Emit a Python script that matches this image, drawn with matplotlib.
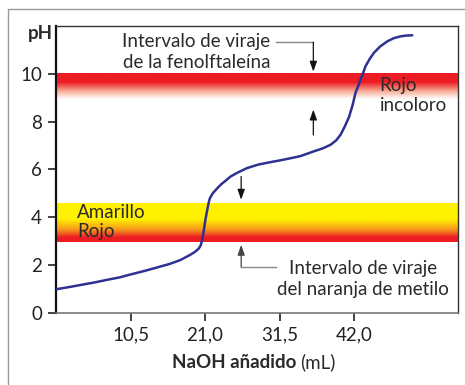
import numpy as np
import matplotlib
matplotlib.use('Agg')
import matplotlib.pyplot as plt
from matplotlib.colors import LinearSegmentedColormap
from matplotlib.lines import Line2D

plt.rcParams.update({
    'font.family': ['Lato', 'DejaVu Sans'],
    'font.size': 13.5,
    'text.color': '#2a2a2a',
    'xtick.color': '#222222',
    'ytick.color': '#222222',
})

# Titration curve: volume of NaOH (mL) vs pH
naoh_ml = [0.0, 2.0, 4.0, 5.5, 7.1, 9.0, 10.5, 12.5, 14.2, 16.0, 17.5,
           18.9, 19.6, 20.1, 20.4, 20.55, 20.7, 21.05, 21.4, 21.55, 21.7,
           22.1, 22.7, 23.3, 24.0, 24.6, 25.5, 26.9, 28.5, 30.2, 32.0,
           34.4, 36.3, 37.6, 38.7, 39.5, 40.1, 40.7, 41.3, 41.8, 42.2,
           42.6, 42.9, 43.3, 43.6, 44.2, 44.8, 45.7, 46.7, 47.6, 48.6,
           49.4, 50.2]
ph = [0.98, 1.08, 1.19, 1.27, 1.37, 1.48, 1.60, 1.75, 1.89, 2.04, 2.20,
      2.42, 2.55, 2.68, 2.82, 3.00, 3.19, 3.89, 4.44, 4.65, 4.80,
      5.00, 5.20, 5.38, 5.55, 5.70, 5.85, 6.05, 6.20, 6.30, 6.40,
      6.55, 6.75, 6.88, 7.03, 7.22, 7.45, 7.80, 8.20, 8.70, 9.20,
      9.50, 9.76, 10.05, 10.31, 10.62, 10.88, 11.15, 11.36, 11.49, 11.57,
      11.60, 11.61]

# Indicator transition ranges (pH)
fenolftaleina = (8.95, 10.0)
naranja_metilo = (2.95, 4.55)

x_ticks = [10.5, 21.0, 31.5, 42.0]
x_ticklabels = ['10,5', '21,0', '31,5', '42,0']
y_ticks = [0, 2, 4, 6, 8, 10]

XMAX, YMAX = 56.6, 12.0

fig = plt.figure(figsize=(4.65, 3.85), dpi=100)
ax = fig.add_axes([0.1204, 0.1878, 0.8639, 0.7447])

# gradient bands
red_cmap = LinearSegmentedColormap.from_list('red_band', [
    (0.0, '#ffffff'), (0.3, '#f7ad98'), (0.65, '#ed1c24'), (1.0, '#ed1c24')])
yel_cmap = LinearSegmentedColormap.from_list('yel_band', [
    (0.0, '#ed1c24'), (0.12, '#ed1c24'), (0.31, '#f7941d'),
    (0.59, '#fff200'), (1.0, '#fff200')])
grad = np.linspace(0, 1, 256).reshape(-1, 1)
ax.imshow(grad, cmap=red_cmap, origin='lower', aspect='auto',
          extent=(0, XMAX, *fenolftaleina), zorder=1)
ax.imshow(grad, cmap=yel_cmap, origin='lower', aspect='auto',
          extent=(0, XMAX, *naranja_metilo), zorder=1)

ax.plot(naoh_ml, ph, color='#2e3192', lw=1.8, solid_capstyle='round',
        solid_joinstyle='round', zorder=3)

ax.set_xlim(0, XMAX)
ax.set_ylim(0, YMAX)
ax.set_xticks(x_ticks)
ax.set_xticklabels(x_ticklabels)
ax.set_yticks(y_ticks)
ax.tick_params(direction='out', length=6, width=1.2, pad=4, labelsize=13.5)

ax.spines['left'].set_color('#111111')
ax.spines['left'].set_linewidth(1.6)
ax.spines['bottom'].set_color('#777777')
ax.spines['bottom'].set_linewidth(1.2)
for s in ('top', 'right'):
    ax.spines[s].set_color('#333333')
    ax.spines[s].set_linewidth(1.0)

arrow = dict(arrowstyle='-|>,head_length=0.45,head_width=0.16',
             color='#111111', lw=0.9, shrinkA=0, shrinkB=0)

# phenolphthalein annotation
ax.text(19.8, 10.91, 'Intervalo de viraje\nde la fenolftaleína',
        ha='center', va='center', linespacing=1.25, zorder=4)
ax.plot([31.0, 36.26], [11.32, 11.32], color='#888888', lw=1.0)
ax.annotate('', xy=(36.26, 10.09), xytext=(36.26, 11.32), arrowprops=arrow)
ax.annotate('', xy=(36.26, 8.5), xytext=(36.26, 7.44), arrowprops=arrow)

# methyl orange annotation
ax.annotate('', xy=(26.09, 4.73), xytext=(26.09, 5.70), arrowprops=arrow)
ax.annotate('', xy=(26.09, 2.84), xytext=(26.09, 1.92),
            arrowprops=dict(arrow, color='#444444'))
ax.plot([26.09, 31.0], [1.92, 1.92], color='#888888', lw=1.0)
ax.text(43.2, 1.40, 'Intervalo de viraje\ndel naranja de metilo',
        ha='center', va='center', linespacing=1.3, zorder=4)

ax.text(45.6, 9.09, 'Rojo\nincoloro', ha='left', va='center',
        linespacing=1.2, zorder=4)
ax.text(3.0, 3.8, 'Amarillo\nRojo', ha='left', va='center',
        linespacing=1.2, zorder=4)

# axis titles
fig.text(40.5 / 465, 1 - 33 / 385, 'pH', ha='center', va='center',
         fontweight='bold', fontsize=13.5)
fig.text(296 / 465, 1 - 368 / 385, 'NaOH añadido', ha='right',
         va='baseline', fontweight='bold', fontsize=13.5)
fig.text(300 / 465, 1 - 368 / 385, '(mL)', ha='left', va='baseline',
         fontsize=13.5)

# open frame around the figure
fig.add_artist(Line2D([8 / 465, 8 / 465, 1.0], [0.0, 1 - 9 / 385, 1 - 9 / 385],
                      transform=fig.transFigure, color='#999999', lw=1.0))

fig.savefig('out.png', dpi=100, facecolor='white')
